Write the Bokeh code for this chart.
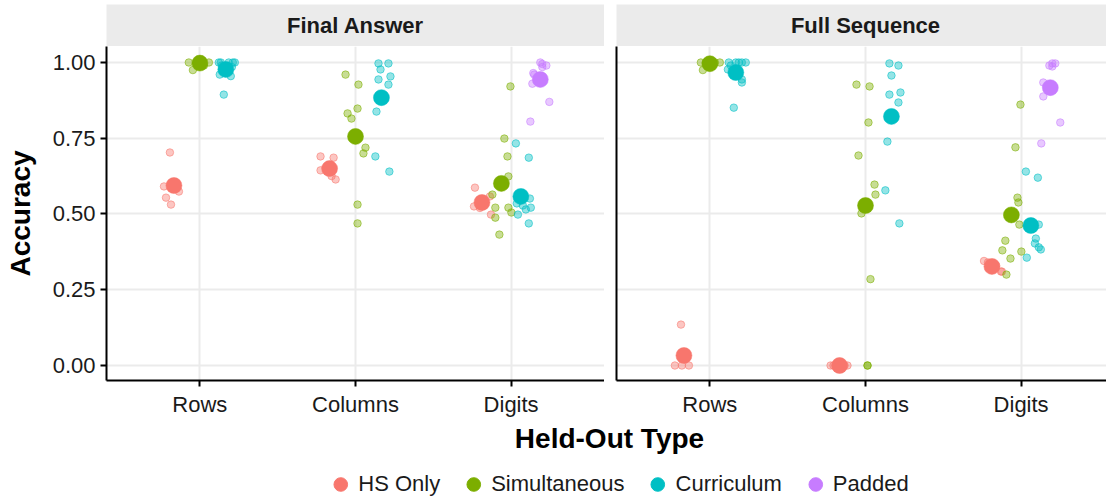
from bokeh.plotting import figure
from bokeh.layouts import column, row
from bokeh.models import Range1d, FixedTicker, Label, Legend, LegendItem, NumeralTickFormatter
from bokeh.embed import file_html
from bokeh.resources import INLINE

HELD_OUT = ["Rows", "Columns", "Digits"]
METHODS = ["HS Only", "Simultaneous", "Curriculum", "Padded"]
COLORS = ["#F8766D", "#7CAE00", "#00BFC4", "#C77CFF"]
PANELS = ["Final Answer", "Full Sequence"]
Y_TICKS = [0.0, 0.25, 0.5, 0.75, 1.0]

# ---------------- Final Answer: individual runs ----------------
fa_rows_hs = [0.703, 0.591, 0.554, 0.531, 0.574]
fa_rows_hs_jit = [-0.026, -0.064, -0.051, -0.019, 0.032]
fa_rows_sim = [1.0, 1.0, 0.975, 1.0, 0.99]
fa_rows_sim_jit = [-0.071, 0.058, -0.045, 0.0, 0.026]
fa_rows_cur = [1.0, 1.0, 1.0, 1.0, 0.99, 0.955, 0.894, 1.0, 0.985, 0.96]
fa_rows_cur_jit = [-0.045, 0.045, 0.058, 0.019, -0.026, 0.032, -0.013, -0.032, 0.039, -0.039]
fa_cols_hs = [0.690, 0.686, 0.644, 0.614, 0.625]
fa_cols_hs_jit = [-0.058, 0.026, -0.058, 0.039, 0.013]
fa_cols_sim = [0.960, 0.927, 0.848, 0.832, 0.815, 0.719, 0.700, 0.531, 0.469]
fa_cols_sim_jit = [-0.064, 0.019, 0.013, -0.051, -0.026, 0.064, 0.051, 0.013, 0.013]
fa_cols_cur = [0.997, 0.997, 0.977, 0.954, 0.944, 0.927, 0.838, 0.690, 0.640]
fa_cols_cur_jit = [-0.019, 0.045, -0.006, 0.058, -0.019, 0.045, -0.032, -0.039, 0.051]
fa_dig_hs = [0.587, 0.525, 0.558, 0.498, 0.520]
fa_dig_hs_jit = [-0.045, -0.051, 0.051, 0.058, -0.013]
fa_dig_sim = [0.921, 0.749, 0.690, 0.624, 0.564, 0.521, 0.521, 0.505, 0.488, 0.432]
fa_dig_sim_jit = [0.058, 0.019, 0.039, 0.045, -0.058, -0.039, 0.045, 0.064, -0.039, -0.013]
fa_dig_cur = [0.733, 0.686, 0.551, 0.521, 0.515, 0.498, 0.469, 0.535, 0.528]
fa_dig_cur_jit = [-0.032, 0.051, 0.058, 0.064, 0.032, -0.019, 0.051, -0.026, 0.013]
fa_dig_pad = [1.0, 0.995, 0.99, 0.985, 0.965, 0.93, 0.87, 0.805, 0.96]
fa_dig_pad_jit = [0.0, 0.013, 0.039, 0.013, -0.045, -0.051, 0.058, -0.064, -0.039]

# ---------------- Full Sequence: individual runs ----------------
fs_rows_hs = [0.135, 0.0, 0.0, 0.03, 0.0]
fs_rows_hs_jit = [-0.019, -0.058, -0.013, 0.0, 0.032]
fs_rows_sim = [1.0, 1.0, 0.975, 1.0, 1.0, 0.99]
fs_rows_sim_jit = [-0.058, 0.064, -0.045, -0.026, 0.032, 0.013]
fs_rows_cur = [1.0, 1.0, 1.0, 0.977, 0.944, 0.934, 0.851, 0.99, 1.0, 1.0]
fs_rows_cur_jit = [-0.045, 0.039, 0.064, -0.051, 0.039, 0.039, -0.013, -0.032, 0.019, 0.0]
fs_cols_hs = [0.0, 0.0, 0.0, 0.0, 0.0]
fs_cols_hs_jit = [-0.058, -0.039, 0.0, 0.032, 0.051]
fs_cols_sim = [0.927, 0.921, 0.802, 0.693, 0.597, 0.564, 0.502, 0.285, 0.0, 0.0]
fs_cols_sim_jit = [-0.058, 0.026, 0.019, -0.045, 0.058, 0.064, -0.026, 0.032, 0.013, 0.013]
fs_cols_cur = [0.997, 0.990, 0.957, 0.894, 0.901, 0.868, 0.739, 0.578, 0.469]
fs_cols_cur_jit = [-0.013, 0.045, 0.0, -0.013, 0.058, 0.045, -0.026, -0.039, 0.051]
fs_dig_hs = [0.345, 0.34, 0.33, 0.31, 0.31]
fs_dig_hs_jit = [-0.051, -0.026, 0.026, 0.058, 0.064]
fs_dig_sim = [0.861, 0.720, 0.554, 0.538, 0.465, 0.412, 0.380, 0.376, 0.353, 0.300]
fs_dig_sim_jit = [0.058, 0.026, 0.039, 0.045, 0.051, -0.039, -0.058, 0.064, -0.006, -0.032]
fs_dig_cur = [0.640, 0.620, 0.465, 0.419, 0.403, 0.390, 0.383, 0.356]
fs_dig_cur_jit = [-0.032, 0.045, 0.051, 0.032, 0.026, 0.051, 0.064, -0.026]
fs_dig_pad = [0.997, 0.997, 0.99, 0.987, 0.934, 0.888, 0.802, 0.733]
fs_dig_pad_jit = [0.013, 0.032, -0.006, 0.013, -0.045, -0.045, 0.064, -0.058]

# ---------------- means (Rows, Columns, Digits) ----------------
fa_mean_hs = [0.594, 0.650, 0.538]
fa_mean_sim = [0.998, 0.756, 0.601]
fa_mean_cur = [0.977, 0.884, 0.558]
fa_mean_pad = [None, None, 0.944]
fs_mean_hs = [0.033, 0.0, 0.327]
fs_mean_sim = [0.996, 0.528, 0.497]
fs_mean_cur = [0.967, 0.822, 0.462]
fs_mean_pad = [None, None, 0.917]

FA_RUNS = {
    ("Rows", "HS Only"): (fa_rows_hs, fa_rows_hs_jit),
    ("Rows", "Simultaneous"): (fa_rows_sim, fa_rows_sim_jit),
    ("Rows", "Curriculum"): (fa_rows_cur, fa_rows_cur_jit),
    ("Columns", "HS Only"): (fa_cols_hs, fa_cols_hs_jit),
    ("Columns", "Simultaneous"): (fa_cols_sim, fa_cols_sim_jit),
    ("Columns", "Curriculum"): (fa_cols_cur, fa_cols_cur_jit),
    ("Digits", "HS Only"): (fa_dig_hs, fa_dig_hs_jit),
    ("Digits", "Simultaneous"): (fa_dig_sim, fa_dig_sim_jit),
    ("Digits", "Curriculum"): (fa_dig_cur, fa_dig_cur_jit),
    ("Digits", "Padded"): (fa_dig_pad, fa_dig_pad_jit),
}
FS_RUNS = {
    ("Rows", "HS Only"): (fs_rows_hs, fs_rows_hs_jit),
    ("Rows", "Simultaneous"): (fs_rows_sim, fs_rows_sim_jit),
    ("Rows", "Curriculum"): (fs_rows_cur, fs_rows_cur_jit),
    ("Columns", "HS Only"): (fs_cols_hs, fs_cols_hs_jit),
    ("Columns", "Simultaneous"): (fs_cols_sim, fs_cols_sim_jit),
    ("Columns", "Curriculum"): (fs_cols_cur, fs_cols_cur_jit),
    ("Digits", "HS Only"): (fs_dig_hs, fs_dig_hs_jit),
    ("Digits", "Simultaneous"): (fs_dig_sim, fs_dig_sim_jit),
    ("Digits", "Curriculum"): (fs_dig_cur, fs_dig_cur_jit),
    ("Digits", "Padded"): (fs_dig_pad, fs_dig_pad_jit),
}
FA_MEANS = {"HS Only": fa_mean_hs, "Simultaneous": fa_mean_sim, "Curriculum": fa_mean_cur, "Padded": fa_mean_pad}
FS_MEANS = {"HS Only": fs_mean_hs, "Simultaneous": fs_mean_sim, "Curriculum": fs_mean_cur, "Padded": fs_mean_pad}

FONT = "Liberation Sans"
GRID = "#EBEBEB"
DODGE_W = 0.5
TICK_FS = "22px"
TITLE_FS = "28px"


def present_methods(h, runs):
    return [m for m in METHODS if (h, m) in runs]


def dodge(k, n):
    return -DODGE_W / 2 + DODGE_W / (2 * n) + k * DODGE_W / n


def make_panel(runs, means, width, border_left, x_end, show_y):
    p = figure(width=width, height=374, x_range=Range1d(0.4, x_end),
               y_range=Range1d(-0.0495, 1.0528), output_backend="svg",
               toolbar_location=None, min_border_left=border_left,
               min_border_right=0, min_border_top=0, min_border_bottom=40)
    p.outline_line_color = None
    p.background_fill_color = "white"
    p.border_fill_color = "white"
    p.xgrid.ticker = FixedTicker(ticks=[1, 2, 3])
    p.ygrid.ticker = FixedTicker(ticks=Y_TICKS)
    p.grid.grid_line_color = GRID
    p.grid.grid_line_width = 2
    xa = p.xaxis[0]
    xa.ticker = FixedTicker(ticks=[1, 2, 3])
    xa.major_label_overrides = {i + 1: h for i, h in enumerate(HELD_OUT)}
    xa.axis_line_width = 2
    xa.axis_line_color = "black"
    xa.major_tick_line_width = 2
    xa.major_tick_out = 6
    xa.major_tick_in = 0
    xa.minor_tick_line_color = None
    xa.major_label_standoff = 5
    xa.major_label_text_font = FONT
    xa.major_label_text_font_size = TICK_FS
    xa.major_label_text_color = "#1A1A1A"
    ya = p.yaxis[0]
    ya.axis_line_width = 2
    ya.axis_line_color = "black"
    ya.minor_tick_line_color = None
    if show_y:
        ya.ticker = FixedTicker(ticks=Y_TICKS)
        ya.formatter = NumeralTickFormatter(format="0.00")
        ya.major_tick_line_width = 2
        ya.major_tick_out = 6
        ya.major_tick_in = 0
        ya.major_label_standoff = 5
        ya.major_label_text_font = FONT
        ya.major_label_text_font_size = TICK_FS
        ya.major_label_text_color = "#1A1A1A"
        ya.axis_label = "Accuracy"
        ya.axis_label_text_font = FONT
        ya.axis_label_text_font_size = TITLE_FS
        ya.axis_label_text_font_style = "bold"
        ya.axis_label_text_color = "black"
        ya.axis_label_standoff = 14
    else:
        # facet without y labels: keep only the axis line
        ya.ticker = FixedTicker(ticks=[])
        ya.major_tick_line_color = None
        ya.major_tick_out = 0
        ya.major_tick_in = 0
        ya.major_label_standoff = 0

    # jittered individual runs
    for h_i, h in enumerate(HELD_OUT):
        ms = present_methods(h, runs)
        for k, m in enumerate(ms):
            vals, jit = runs[(h, m)]
            c = COLORS[METHODS.index(m)]
            xs = [h_i + 1 + dodge(k, len(ms)) + j for j in jit]
            p.scatter(xs, vals, size=7.5, fill_color=c, fill_alpha=0.42,
                      line_color=c, line_alpha=0.55, line_width=1)
    # means
    for h_i, h in enumerate(HELD_OUT):
        ms = present_methods(h, runs)
        for k, m in enumerate(ms):
            mv = means[m][h_i]
            if mv is None:
                continue
            c = COLORS[METHODS.index(m)]
            p.scatter([h_i + 1 + dodge(k, len(ms))], [mv], size=16,
                      fill_color=c, line_color=c, line_width=0.5)
    return p


def make_strip(title, width, border_left, x_end):
    s = figure(width=width, height=46, x_range=Range1d(0.4, x_end),
               y_range=Range1d(0, 1), x_axis_type=None, y_axis_type=None,
               output_backend="svg", toolbar_location=None,
               min_border_left=border_left, min_border_right=0,
               min_border_top=4, min_border_bottom=0)
    s.grid.visible = False
    s.outline_line_color = None
    s.background_fill_color = GRID
    s.border_fill_color = "white"
    s.add_layout(Label(x=2, y=0.5, text=title, text_align="center",
                       text_baseline="middle", text_font=FONT,
                       text_font_size=TICK_FS, text_font_style="bold",
                       text_color="#1A1A1A"))
    return s


TOTAL_W = 1106
LEFT_B = 106
LEFT_W = 604
RIGHT_B = 12
RIGHT_W = TOTAL_W - LEFT_W
LEFT_END = 3.6
PX_PER_UNIT = (LEFT_W - LEFT_B) / (LEFT_END - 0.4)
RIGHT_END = 0.4 + (RIGHT_W - RIGHT_B) / PX_PER_UNIT

strip_l = make_strip(PANELS[0], LEFT_W, LEFT_B, LEFT_END)
strip_r = make_strip(PANELS[1], RIGHT_W, RIGHT_B, RIGHT_END)
panel_l = make_panel(FA_RUNS, FA_MEANS, LEFT_W, LEFT_B, LEFT_END, True)
panel_r = make_panel(FS_RUNS, FS_MEANS, RIGHT_W, RIGHT_B, RIGHT_END, False)

# bottom: shared x title + legend
BOT_B = 126
BOT_H = 77
bot = figure(width=TOTAL_W, height=BOT_H, x_range=Range1d(0, 1),
             y_range=Range1d(0, 1), x_axis_type=None, y_axis_type=None,
             output_backend="svg", toolbar_location=None,
             min_border_left=BOT_B, min_border_right=0, min_border_top=0,
             min_border_bottom=0)
bot.grid.visible = False
bot.outline_line_color = None
frame_w = TOTAL_W - BOT_B
bot.add_layout(Label(x=(609 - BOT_B) / frame_w, y=1 - 18 / BOT_H, text="Held-Out Type",
                     text_align="center", text_baseline="middle", text_font=FONT,
                     text_font_size=TITLE_FS, text_font_style="bold",
                     text_color="black"))
items = []
nan = float("nan")
for m, c in zip(METHODS, COLORS):
    r = bot.scatter(x=[nan], y=[nan], size=14, fill_color=c, line_color=c)
    items.append(LegendItem(label=m, renderers=[r]))
legend = Legend(items=items, orientation="horizontal", location="bottom_center",
                label_text_font=FONT, label_text_font_size=TICK_FS,
                label_text_color="#1A1A1A", glyph_width=34, glyph_height=34,
                label_standoff=1, spacing=16, padding=0, margin=-4,
                border_line_color=None, background_fill_alpha=0)
bot.add_layout(legend, "center")

layout = column(row(strip_l, strip_r), row(panel_l, panel_r), bot)
open("out.html", "w").write(file_html(layout, INLINE))
